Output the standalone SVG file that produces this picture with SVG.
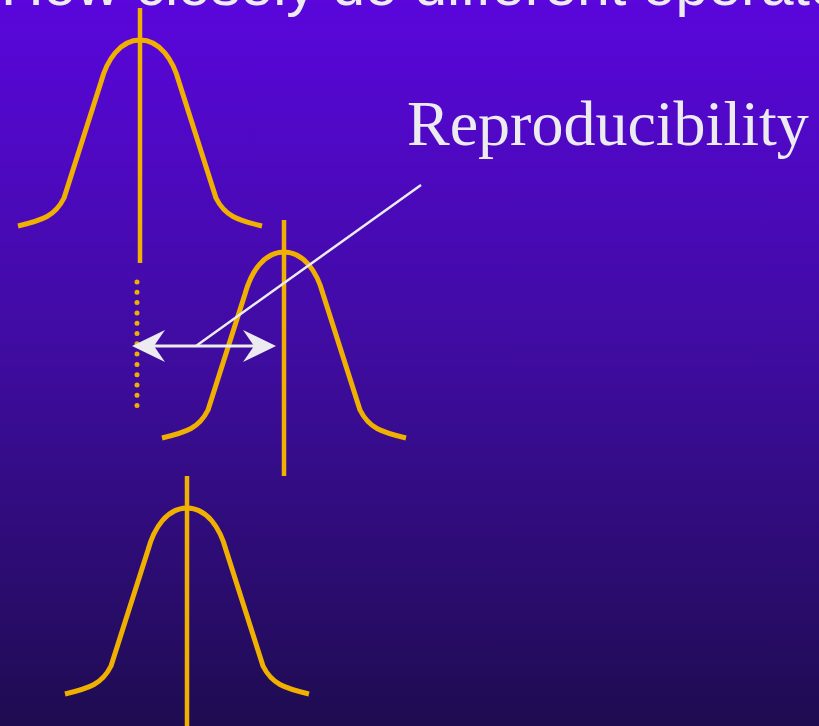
<svg xmlns="http://www.w3.org/2000/svg" xmlns:xlink="http://www.w3.org/1999/xlink" width="819" height="726" viewBox="0 0 819 726">
<defs>
<linearGradient id="bg" x1="0" y1="0" x2="0" y2="1">
<stop offset="0" stop-color="#5a06dc"/>
<stop offset="0.5" stop-color="#3e0c9e"/>
<stop offset="1" stop-color="#1e0c50"/>
</linearGradient>
<path id="bell" d="M -122,186 C -97,180 -85,176 -76,158 L -39,42 C -33,20 -20,0 0,0 C 20,0 33,20 39,42 L 76,158 C 85,176 97,180 122,186"/>
</defs>
<style>
.curve{fill:none;stroke:#efb000;stroke-width:5}
.axis{stroke:#efb000;stroke-width:4.5}
.dots{stroke:#efb000;stroke-width:5;stroke-linecap:round;stroke-dasharray:0 10.3}
.light{fill:#ebebf0}
.shaft{stroke:#ebebf0;stroke-width:3}
.leader{stroke:#ebebf0;stroke-width:2.5}
.title{font-family:"Liberation Sans",Arial,sans-serif;font-size:59px;fill:#ebebf0}
.label{font-family:"Liberation Serif","Times New Roman",serif;font-size:64px;fill:#ebebf0}
</style>
<rect width="819" height="726" fill="url(#bg)"/>
<text class="title" x="1" y="5">How closely do different operators</text>
<g id="dist-top">
<use xlink:href="#bell" class="curve" transform="translate(140,40)"/>
<line class="axis" x1="140" y1="8" x2="140" y2="263"/>
</g>
<g id="dist-middle">
<use xlink:href="#bell" class="curve" transform="translate(284,252)"/>
<line class="axis" x1="284" y1="220" x2="284" y2="476"/>
</g>
<g id="dist-bottom">
<use xlink:href="#bell" class="curve" transform="translate(187,508)"/>
<line class="axis" x1="187" y1="476" x2="187" y2="730"/>
</g>
<g id="reference-mark">
<line class="dots" x1="137" y1="282" x2="137" y2="406"/>
</g>
<g id="label-reproducibility">
<text class="label" x="407" y="145">Reproducibility</text>
</g>
<g id="connectors">
<line class="shaft" x1="150" y1="346" x2="258" y2="346"/>
<polygon class="light" points="132,346 165,330 154,346 165,362"/>
<polygon class="light" points="276,346 243,330 254,346 243,362"/>
<line class="leader" x1="196" y1="346" x2="421" y2="185"/>
</g>
</svg>
